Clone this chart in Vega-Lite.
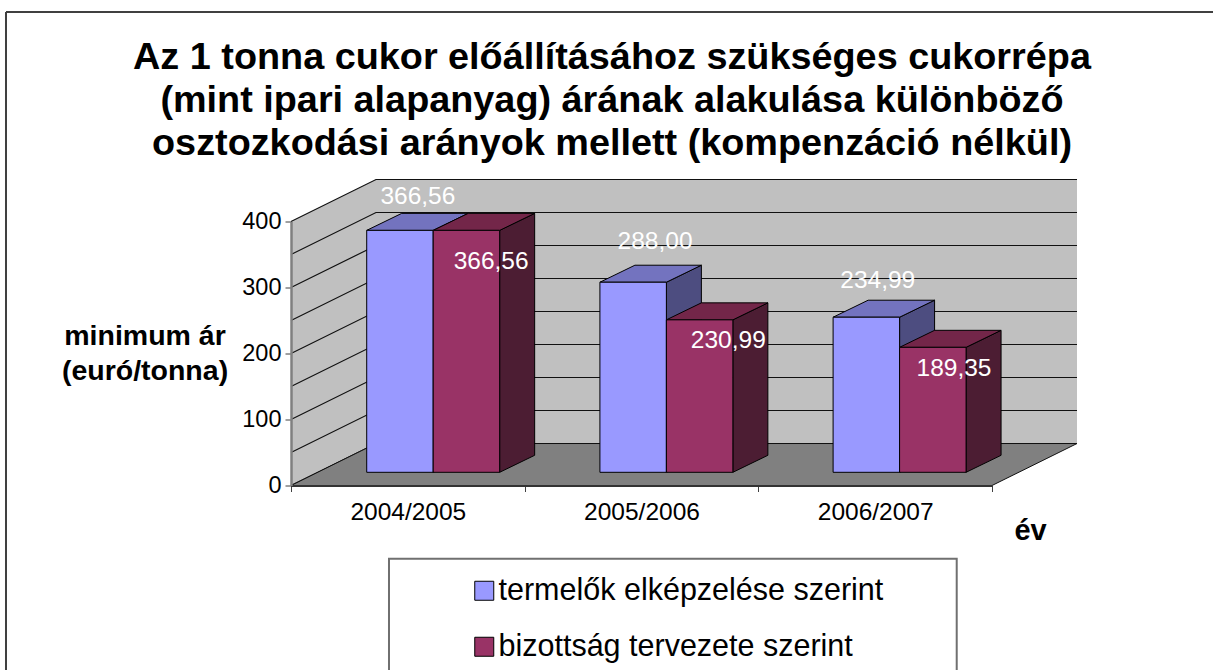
{"$schema":"https://vega.github.io/schema/vega-lite/v6.json","autosize":{"type":"none"},"padding":{"left":291,"top":221.5,"right":221,"bottom":184.5},"width":701,"height":264,"background":"white","config":{"view":{"stroke":null},"font":"Liberation Sans"},"title":{"text":["Az 1 tonna cukor előállításához szükséges cukorrépa","(mint ipari alapanyag) árának alakulása különböző","osztozkodási arányok mellett (kompenzáció nélkül)"],"font":"Liberation Sans","fontSize":37.8,"fontWeight":"bold","color":"black","lineHeight":43,"anchor":"middle","dx":-29.5,"offset":-151.5,"limit":0},"datasets":{"bars":[{"year":"2004/2005","series":"termelők elképzelése szerint","value":366.56},{"year":"2004/2005","series":"bizottság tervezete szerint","value":366.56},{"year":"2005/2006","series":"termelők elképzelése szerint","value":288.0},{"year":"2005/2006","series":"bizottság tervezete szerint","value":230.99},{"year":"2006/2007","series":"termelők elképzelése szerint","value":234.99},{"year":"2006/2007","series":"bizottság tervezete szerint","value":189.35}],"grid":[{"v":0},{"v":50},{"v":100},{"v":150},{"v":200},{"v":250},{"v":300},{"v":350},{"v":400}],"edge":[{"t":0},{"t":1}],"one":[{"n":1}]},"data":{"name":"bars"},"transform":[{"calculate":"indexof(['2004/2005','2005/2006','2006/2007'],datum.year)","as":"i"},{"calculate":"datum.series=='termelők elképzelése szerint'?0:1","as":"j"},{"calculate":"datum.i*0.998+0.324+datum.j*0.2845","as":"x0"}],"layer":[{"data":{"name":"one"},"transform":[],"mark":{"type":"rule","stroke":"#404040","strokeWidth":2},"encoding":{"x":{"datum":-1.2197,"type":"quantitative","scale":{"domain":[0,3]},"axis":null},"x2":{"datum":4},"y":{"datum":717.4,"type":"quantitative","scale":{"domain":[0,400],"nice":false}}}},{"data":{"name":"one"},"transform":[],"mark":{"type":"rule","stroke":"#404040","strokeWidth":2},"encoding":{"x":{"datum":-1.2197,"type":"quantitative","scale":{"domain":[0,3]},"axis":null},"y":{"datum":717.4,"type":"quantitative","scale":{"domain":[0,400],"nice":false}},"y2":{"datum":-300}}},{"data":{"name":"one"},"transform":[],"mark":{"type":"rect","fill":"#C0C0C0"},"encoding":{"x":{"datum":0.3638,"type":"quantitative","scale":{"domain":[0,3]},"axis":null},"x2":{"datum":3.3638},"y":{"datum":63.6,"type":"quantitative","scale":{"domain":[0,400],"nice":false}},"y2":{"datum":463.6}}},{"data":{"name":"edge"},"transform":[{"calculate":"datum.t*0.3638","as":"x"},{"calculate":"datum.t*63.6","as":"y"},{"calculate":"400+datum.t*63.6","as":"y2"}],"mark":{"type":"area","fill":"#C0C0C0","orient":"vertical"},"encoding":{"x":{"field":"x","type":"quantitative","scale":{"domain":[0,3]},"axis":null},"y":{"field":"y","type":"quantitative","stack":null,"scale":{"domain":[0,400],"nice":false}},"y2":{"field":"y2"}}},{"data":{"name":"grid"},"transform":[{"calculate":"[0,1,2]","as":"t"},{"flatten":["t"]},{"calculate":"datum.t==0?0:(datum.t==1?0.3638:3.3638)","as":"x"},{"calculate":"datum.v+(datum.t>0?63.6:0)","as":"y"}],"mark":{"type":"line","stroke":"#111111","strokeWidth":1.2},"encoding":{"x":{"field":"x","type":"quantitative","scale":{"domain":[0,3]},"axis":null},"y":{"field":"y","type":"quantitative","scale":{"domain":[0,400],"nice":false},"axis":{"values":[0,50,100,150,200,250,300,350,400],"grid":false,"labelOverlap":false,"labelBound":false,"title":["minimum ár","(euró/tonna)"],"titleAngle":0,"titleFont":"Liberation Sans","titleFontSize":28.5,"titleFontWeight":"bold","titleColor":"black","titleX":-146.5,"titleY":114,"titleAlign":"center","titleBaseline":"middle","titleLineHeight":35,"titleLimit":0,"labelFontSize":23.5,"labelColor":"black","labelFont":"Liberation Sans","labelPadding":4,"domainColor":"#808080","domainWidth":2.5,"tickColor":"#404040","tickSize":6,"tickWidth":1,"format":"d","zindex":1}},"detail":{"field":"v"},"order":{"field":"t"}}},{"data":{"name":"edge"},"transform":[{"calculate":"datum.t*63.6","as":"y"},{"calculate":"datum.t*0.3638","as":"x"},{"calculate":"3+datum.t*0.3638","as":"x2"}],"mark":{"type":"area","orient":"horizontal","fill":"#808080","stroke":"#111111","strokeWidth":1},"encoding":{"y":{"field":"y","type":"quantitative","scale":{"domain":[0,400],"nice":false}},"x":{"field":"x","type":"quantitative","stack":null,"scale":{"domain":[0,3]},"axis":null},"x2":{"field":"x2"}}},{"transform":[{"calculate":"[0,1]","as":"t"},{"flatten":["t"]},{"calculate":"datum.x0+0.2845+datum.t*0.1498","as":"x"},{"calculate":"20+datum.t*25.76","as":"y"},{"calculate":"20+datum.value+datum.t*25.76","as":"y2"}],"mark":{"type":"area","orient":"vertical","stroke":"black","strokeWidth":1},"encoding":{"x":{"field":"x","type":"quantitative","scale":{"domain":[0,3]},"axis":null},"y":{"field":"y","type":"quantitative","stack":null,"scale":{"domain":[0,400],"nice":false}},"y2":{"field":"y2"},"detail":[{"field":"year"},{"field":"series"}],"fill":{"condition":{"test":"datum.j==0","value":"#4D4D80"},"value":"#4C1D33"}}},{"transform":[{"calculate":"[0,1]","as":"t"},{"flatten":["t"]},{"calculate":"20+datum.value+datum.t*25.76","as":"y"},{"calculate":"datum.x0+datum.t*0.1498","as":"x"},{"calculate":"datum.x0+0.2845+datum.t*0.1498","as":"x2"}],"mark":{"type":"area","orient":"horizontal","stroke":"black","strokeWidth":1},"encoding":{"y":{"field":"y","type":"quantitative","scale":{"domain":[0,400],"nice":false}},"x":{"field":"x","type":"quantitative","stack":null,"scale":{"domain":[0,3]},"axis":null},"x2":{"field":"x2"},"detail":[{"field":"year"},{"field":"series"}],"fill":{"condition":{"test":"datum.j==0","value":"#7373BF"},"value":"#732649"}}},{"data":{"name":"one"},"transform":[],"mark":{"type":"rect","fill":"white","stroke":"#707070","strokeWidth":2},"encoding":{"x":{"datum":0.4194,"type":"quantitative","scale":{"domain":[0,3]},"axis":null},"x2":{"datum":2.849},"y":{"datum":-110.9,"type":"quantitative","scale":{"domain":[0,400],"nice":false}},"y2":{"datum":-300}}},{"transform":[{"calculate":"datum.x0+0.2845","as":"x1"},{"calculate":"20+datum.value","as":"top"},{"calculate":"20","as":"base"}],"mark":{"type":"rect","stroke":"black","strokeWidth":1},"encoding":{"x":{"field":"x0","type":"quantitative","scale":{"domain":[0,3]},"axis":null},"x2":{"field":"x1"},"y":{"field":"base","type":"quantitative","scale":{"domain":[0,400],"nice":false}},"y2":{"field":"top"},"fill":{"field":"series","type":"nominal","sort":null,"scale":{"domain":["termelők elképzelése szerint","bizottság tervezete szerint"],"range":["#9999FF","#993366"]},"legend":{"title":null,"orient":"none","legendX":178,"legendY":354,"padding":0,"symbolType":"square","symbolSize":361,"symbolStrokeColor":"black","symbolStrokeWidth":1,"labelFontSize":30.5,"labelFont":"Liberation Sans","labelColor":"black","labelOffset":-1,"rowPadding":25,"labelLimit":0,"zindex":1}}}},{"transform":[{"calculate":"datum.x0+[[0.219,0.248],[0.236,0.265],[0.191,0.233]][datum.i][datum.j]","as":"lx"},{"calculate":"datum.value+[[70.2,-28.4],[81.4,-12.1],[74.8,-12.9]][datum.i][datum.j]","as":"ly"},{"calculate":"replace(format(datum.value,'.2f'),'.',',')","as":"lab"}],"mark":{"type":"text","color":"white","fontSize":24.5,"font":"Liberation Sans","align":"center","baseline":"middle"},"encoding":{"x":{"field":"lx","type":"quantitative","scale":{"domain":[0,3]},"axis":null},"y":{"field":"ly","type":"quantitative","scale":{"domain":[0,400],"nice":false}},"text":{"field":"lab"}}},{"mark":{"type":"rule","opacity":0},"encoding":{"x":{"field":"year","type":"nominal","scale":{"type":"band","domain":["2004/2005","2005/2006","2006/2007"],"paddingInner":0,"paddingOuter":0},"axis":{"tickBand":"extent","labelAngle":0,"labelFontSize":24.5,"labelFont":"Liberation Sans","labelColor":"black","labelPadding":9,"domainColor":"#333333","domainWidth":2,"tickColor":"#404040","tickSize":6,"title":"év","titleFont":"Liberation Sans","titleFontSize":29,"titleFontWeight":"bold","titleColor":"black","titleX":739,"titleY":45,"titleAlign":"center","titleBaseline":"middle","zindex":1}}}}],"resolve":{"scale":{"x":"independent"}}}
